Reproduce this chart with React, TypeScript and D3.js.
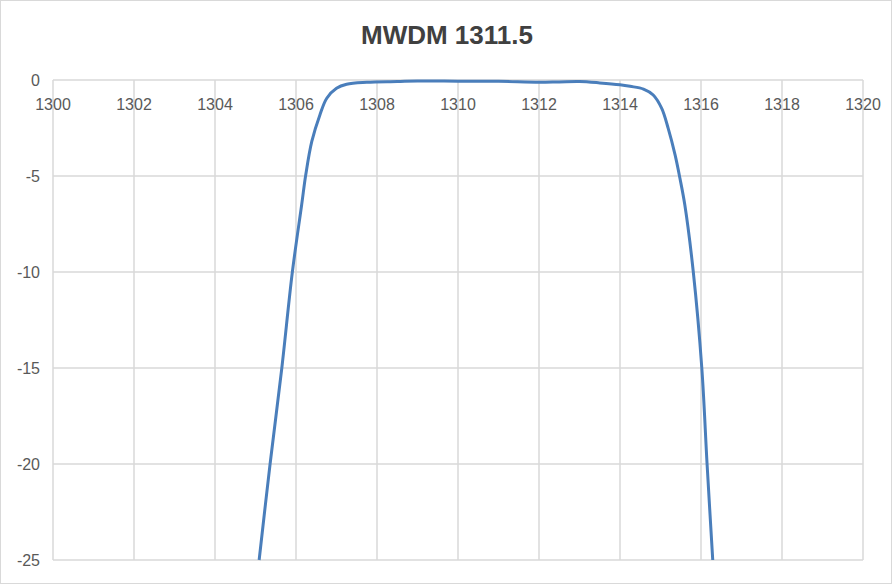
import React, { useRef, useEffect } from 'react';
import * as d3 from 'd3';

const width = 894;
const height = 585;
const margin = { top: 80, right: 31, bottom: 25, left: 53 };

const title = 'MWDM 1311.5';
const xTicks = [1300, 1302, 1304, 1306, 1308, 1310, 1312, 1314, 1316, 1318, 1320];
const yTicks = [0, -5, -10, -15, -20, -25];

// wavelength (nm) and insertion loss (dB)
const wavelength = [
    1305.09, 1305.36, 1305.65, 1305.91, 1306.14, 1306.24, 1306.39, 1306.59, 1306.76,
    1307.0, 1307.25, 1307.75, 1308.5, 1309, 1310, 1311, 1312, 1312.5, 1313, 1313.5,
    1314, 1314.25, 1314.58, 1314.82, 1315.03, 1315.19, 1315.36, 1315.48, 1315.6,
    1315.81, 1316.02, 1316.15, 1316.29
];
const loss = [
    -25, -20, -15, -10, -6.5, -4.95, -3.2, -1.82, -0.95,
    -0.43, -0.22, -0.12, -0.08, -0.05, -0.06, -0.07, -0.12, -0.1, -0.08, -0.15,
    -0.25, -0.33, -0.47, -0.78, -1.48, -2.52, -3.9, -5.12, -6.5,
    -10, -15, -20, -25
];

const points = wavelength.map((w, i) => ({ w, v: loss[i] }));

export default function App() {
    const svgRef = useRef<SVGSVGElement>(null);

    useEffect(() => {
        const svg = d3.select(svgRef.current);
        svg.selectAll('*').remove();

        const x = d3.scaleLinear()
            .domain([1300, 1320])
            .range([margin.left, width - margin.right]);
        const y = d3.scaleLinear()
            .domain([-25, 0])
            .range([height - margin.bottom, margin.top]);

        svg.append('rect')
            .attr('x', 0.5).attr('y', 0.5)
            .attr('width', width - 3).attr('height', height - 2)
            .attr('fill', '#fff')
            .attr('stroke', '#d9d9d9');

        svg.append('text')
            .attr('x', 447).attr('y', 44)
            .attr('text-anchor', 'middle')
            .attr('font-family', 'Liberation Sans, Arial, sans-serif')
            .attr('font-weight', 'bold')
            .attr('font-size', 26)
            .attr('fill', '#404040')
            .text(title);

        const grid = svg.append('g').attr('stroke', '#d9d9d9').attr('stroke-width', 1.5);
        grid.selectAll('.vx')
            .data(xTicks)
            .enter()
            .append('line')
            .attr('x1', d => x(d)).attr('x2', d => x(d))
            .attr('y1', y(0)).attr('y2', y(-25));
        grid.selectAll('.hy')
            .data(yTicks)
            .enter()
            .append('line')
            .attr('x1', x(1300)).attr('x2', x(1320))
            .attr('y1', d => y(d)).attr('y2', d => y(d));

        const font = 'Liberation Sans, Arial, sans-serif';

        svg.append('g')
            .selectAll('text')
            .data(xTicks)
            .enter()
            .append('text')
            .attr('x', d => x(d))
            .attr('y', y(0) + 30)
            .attr('text-anchor', 'middle')
            .attr('font-family', font)
            .attr('font-size', 16)
            .attr('fill', '#595959')
            .text(d => d);

        svg.append('g')
            .selectAll('text')
            .data(yTicks)
            .enter()
            .append('text')
            .attr('x', 40)
            .attr('y', d => y(d) + 6)
            .attr('text-anchor', 'end')
            .attr('font-family', font)
            .attr('font-size', 16)
            .attr('fill', '#595959')
            .text(d => d);

        const line = d3.line<{ w: number; v: number }>()
            .x(d => x(d.w))
            .y(d => y(d.v))
            .curve(d3.curveCatmullRom.alpha(0.5));

        svg.append('path')
            .datum(points)
            .attr('d', line)
            .attr('fill', 'none')
            .attr('stroke', '#4a7ebb')
            .attr('stroke-width', 3)
            .attr('stroke-linejoin', 'round');
    }, []);

    return (
        <svg width={width} height={height} ref={svgRef}
            style={{ position: 'absolute', left: 0, top: 0 }}></svg>
    );
}
